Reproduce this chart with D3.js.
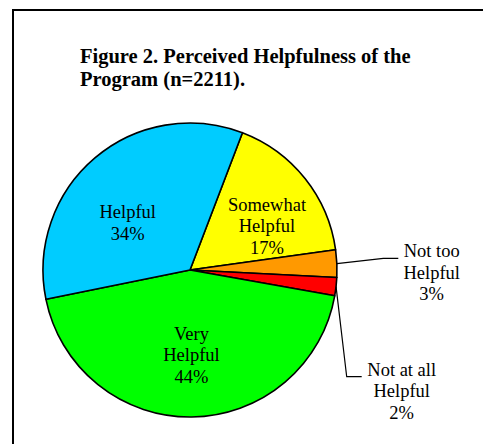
<!DOCTYPE html>
<html>
<head>
<meta charset="utf-8">
<script src="https://cdn.jsdelivr.net/npm/d3@7"></script>
<style>
  body { margin: 0; background: #fff; }
  text { font-family: "Liberation Serif", "Times New Roman", serif; }
</style>
</head>
<body>
<div class="main"></div>
<script>
const categories = ['Somewhat Helpful', 'Not too Helpful', 'Not at all Helpful', 'Very Helpful', 'Helpful'];
const percents = [17, 3, 2, 44, 34];
const labelLines = [['Somewhat', 'Helpful'], ['Not too', 'Helpful'], ['Not at all', 'Helpful'], ['Very', 'Helpful'], ['Helpful']];
const colors = ['#FFFF00', '#FF9900', '#FF0000', '#00FF00', '#00CCFF'];

const width = 483, height = 444;
const cx = 190, cy = 270, radius = 147;

// label offsets from pie centre (first baseline), plus leader elbows for outside labels
const labelPos = {
  'Somewhat Helpful': { x: 77, y: -59.3 },
  'Not too Helpful': { x: 241.7, y: -13, leader: [[193.3, -11.7], [208.3, -11.7]] },
  'Not at all Helpful': { x: 211.7, y: 105.7, leader: [[156.7, 106.7], [171.7, 106.7]] },
  'Very Helpful': { x: 1.5, y: 69.5 },
  'Helpful': { x: -62.3, y: -51.7 }
};

const svg = d3.select('.main').append('svg')
  .attr('width', width)
  .attr('height', height);

// frame (only top and left edges fall inside the picture)
svg.append('rect')
  .attr('x', 13).attr('y', 10)
  .attr('width', 500).attr('height', 500)
  .attr('fill', '#fff')
  .attr('stroke', '#000')
  .attr('stroke-width', 2);

const title = svg.append('text')
  .attr('x', 80)
  .attr('y', 63.3)
  .attr('font-size', 20.5)
  .attr('font-weight', 'bold');
title.append('tspan').attr('x', 80).text('Figure 2. Perceived Helpfulness of the');
title.append('tspan').attr('x', 80).attr('dy', 22.7).text('Program (n=2211).');

const data = categories.map((c, i) => ({ name: c, value: percents[i], color: colors[i], lines: labelLines[i] }));

const start = 20.9 * Math.PI / 180;
const pie = d3.pie().value(d => d.value).sort(null)
  .startAngle(start).endAngle(start + 2 * Math.PI);
const arc = d3.arc().innerRadius(0).outerRadius(radius);

const g = svg.append('g').attr('transform', `translate(${cx},${cy})`);

const arcs = pie(data);

g.selectAll('path.slice').data(arcs).enter().append('path')
  .attr('class', 'slice')
  .attr('d', arc)
  .attr('fill', d => d.data.color)
  .attr('stroke', '#000')
  .attr('stroke-width', 1.6)
  .attr('stroke-linejoin', 'round');

// leader lines
g.selectAll('polyline.leader').data(arcs.filter(d => labelPos[d.data.name].leader)).enter()
  .append('polyline')
  .attr('class', 'leader')
  .attr('fill', 'none')
  .attr('stroke', '#000')
  .attr('stroke-width', 1.2)
  .attr('points', d => {
    let mid = (d.startAngle + d.endAngle) / 2;
    let p0 = [radius * Math.sin(mid), -radius * Math.cos(mid)];
    return [p0].concat(labelPos[d.data.name].leader).map(p => p.join(',')).join(' ');
  });

// labels
let labels = g.selectAll('text.label').data(arcs).enter().append('text')
  .attr('class', 'label')
  .attr('text-anchor', 'middle')
  .attr('font-size', 18.5)
  .attr('fill', '#000')
  .attr('x', d => labelPos[d.data.name].x)
  .attr('y', d => labelPos[d.data.name].y);

labels.each(function(d) {
  let t = d3.select(this);
  let pos = labelPos[d.data.name];
  d.data.lines.concat([d.data.value + '%']).forEach((line, i) => {
    t.append('tspan').attr('x', pos.x).attr('dy', i === 0 ? 0 : 21.6).text(line);
  });
});
</script>
</body>
</html>
